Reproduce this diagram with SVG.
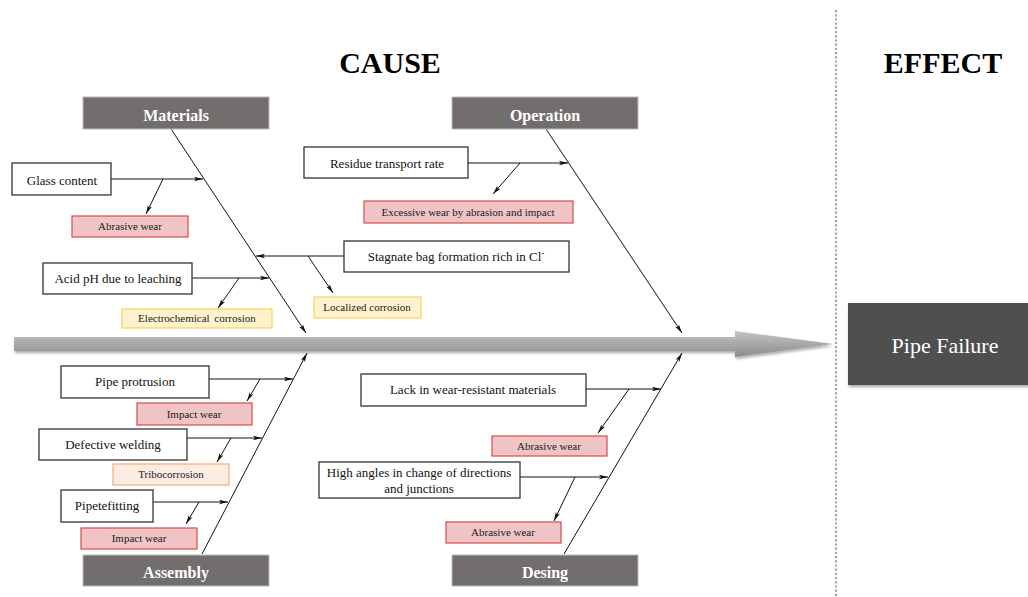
<svg xmlns="http://www.w3.org/2000/svg" width="1028" height="597" viewBox="0 0 1028 597">
<style>
.cat{fill:#736e6e;stroke:#bbb;stroke-width:1}
.catt{font-family:"Liberation Serif",serif;font-weight:bold;font-size:16px;fill:#fff;text-anchor:middle}
.cb{fill:#fff;stroke:#333;stroke-width:1.3}
.ct{font-family:"Liberation Serif",serif;font-size:13px;fill:#111;text-anchor:middle}
.red{fill:#f0c3c5;stroke:#d84b4b;stroke-width:1.2}
.yel{fill:#fff2cc;stroke:#f7d35e;stroke-width:1.2}
.org{fill:#fcece1;stroke:#f2ae7e;stroke-width:1.2}
.et{font-family:"Liberation Serif",serif;font-size:11px;fill:#222;text-anchor:middle}
.ln{stroke:#111;stroke-width:1;fill:none;marker-end:url(#ah)}
.title{font-family:"Liberation Serif",serif;font-weight:bold;font-size:30px;fill:#000;text-anchor:middle}
</style>
<defs>
<marker id="ah" markerWidth="10" markerHeight="6" refX="9" refY="3" orient="auto" markerUnits="userSpaceOnUse">
<path d="M0,0.8 L9,3 L0,5.2 L2,3 Z" fill="#111"/>
</marker>
<linearGradient id="bar" x1="0" y1="0" x2="0" y2="1">
<stop offset="0" stop-color="#c4c4c4"/>
<stop offset="0.5" stop-color="#a8a8a8"/>
<stop offset="1" stop-color="#8c8c8c"/>
</linearGradient>
<filter id="sh" x="-10%" y="-10%" width="130%" height="140%">
<feGaussianBlur in="SourceAlpha" stdDeviation="1.5"/>
<feOffset dx="1" dy="2"/>
<feComponentTransfer><feFuncA type="linear" slope="0.35"/></feComponentTransfer>
<feMerge><feMergeNode/><feMergeNode in="SourceGraphic"/></feMerge>
</filter>
</defs>
<rect width="1028" height="597" fill="#fff"/>
<text class="title" x="390" y="73">CAUSE</text>
<text class="title" x="943" y="73">EFFECT</text>
<line x1="836" y1="10" x2="836" y2="597" stroke="#a6a6a6" stroke-width="2.2" stroke-dasharray="2.2,2"/>
<g id="spine">
<polygon points="14,337 735,337 735,331 833,344 735,357 735,351 14,351" fill="url(#bar)" filter="url(#sh)"/>
</g>
<g id="effect">
<rect x="848" y="303" width="185" height="82" fill="#4f4f4f" filter="url(#sh)"/>
<text x="945" y="353" font-family="'Liberation Serif', serif" font-size="22" fill="#fff" text-anchor="middle">Pipe Failure</text>
</g>
<g id="connectors">
<line class="ln" x1="171" y1="129" x2="306" y2="333"/>
<line class="ln" x1="546" y1="129" x2="682" y2="333"/>
<line class="ln" x1="202" y1="554" x2="307" y2="353"/>
<line class="ln" x1="564" y1="554" x2="682" y2="353"/>
<line class="ln" x1="111" y1="179" x2="203" y2="179"/>
<line class="ln" x1="163" y1="179" x2="146" y2="214"/>
<line class="ln" x1="192" y1="278" x2="269" y2="278"/>
<line class="ln" x1="239" y1="278" x2="218" y2="308"/>
<line class="ln" x1="344" y1="256" x2="256" y2="256"/>
<line class="ln" x1="308" y1="256" x2="333" y2="293"/>
<line class="ln" x1="468" y1="163" x2="568" y2="163"/>
<line class="ln" x1="520" y1="163" x2="493" y2="194"/>
<line class="ln" x1="209" y1="379" x2="293" y2="379"/>
<line class="ln" x1="260" y1="379" x2="247" y2="401"/>
<line class="ln" x1="187" y1="438" x2="262" y2="438"/>
<line class="ln" x1="231" y1="438" x2="217" y2="462"/>
<line class="ln" x1="153" y1="502" x2="228" y2="502"/>
<line class="ln" x1="199" y1="502" x2="186" y2="524"/>
<line class="ln" x1="586" y1="389" x2="661" y2="389"/>
<line class="ln" x1="629" y1="389" x2="598" y2="433"/>
<line class="ln" x1="520" y1="477" x2="608" y2="477"/>
<line class="ln" x1="575" y1="477" x2="554" y2="521"/>
</g>
<g id="materials"><rect class="cat" x="83" y="97" width="186" height="32"/><text class="catt" x="176" y="121">Materials</text></g>
<g id="operation"><rect class="cat" x="452" y="97" width="186" height="32"/><text class="catt" x="545" y="121">Operation</text></g>
<g id="assembly"><rect class="cat" x="83" y="555" width="186" height="31"/><text class="catt" x="176" y="578">Assembly</text></g>
<g id="desing"><rect class="cat" x="452" y="555" width="186" height="31"/><text class="catt" x="545" y="578">Desing</text></g>
<g id="glass"><rect class="cb" x="12" y="163" width="99" height="32"/><text class="ct" x="62" y="185">Glass content</text></g>
<g id="abr1"><rect class="red" x="72" y="216" width="116" height="21"/><text class="et" x="130" y="230">Abrasive wear</text></g>
<g id="acid"><rect class="cb" x="43" y="263" width="149" height="31"/><text class="ct" x="118" y="283">Acid pH due to leaching</text></g>
<g id="electro"><rect class="yel" x="122" y="309" width="150" height="19"/><text class="et" x="197" y="322" word-spacing="2">Electrochemical corrosion</text></g>
<g id="residue"><rect class="cb" x="304" y="147" width="164" height="31"/><text class="ct" x="387" y="168">Residue transport rate</text></g>
<g id="excess"><rect class="red" x="364" y="201" width="209" height="22"/><text class="et" x="468" y="216">Excessive wear by abrasion and impact</text></g>
<g id="stagnate"><rect class="cb" x="344" y="241" width="225" height="31"/><text class="ct" x="456" y="261">Stagnate bag formation rich in Cl<tspan font-size="9" dy="-5">-</tspan></text></g>
<g id="localized"><rect class="yel" x="314" y="297" width="107" height="21"/><text class="et" x="367" y="311">Localized corrosion</text></g>
<g id="protrusion"><rect class="cb" x="61" y="366" width="148" height="32"/><text class="ct" x="135" y="386">Pipe protrusion</text></g>
<g id="impact1"><rect class="red" x="137" y="403" width="115" height="22"/><text class="et" x="194" y="418">Impact wear</text></g>
<g id="welding"><rect class="cb" x="39" y="429" width="148" height="31"/><text class="ct" x="113" y="449">Defective welding</text></g>
<g id="tribo"><rect class="org" x="113" y="464" width="116" height="21"/><text class="et" x="171" y="478">Tribocorrosion</text></g>
<g id="fitting"><rect class="cb" x="61" y="490" width="92" height="32"/><text class="ct" x="107" y="510">Pipetefitting</text></g>
<g id="impact2"><rect class="red" x="81" y="528" width="116" height="21"/><text class="et" x="139" y="542">Impact wear</text></g>
<g id="lack"><rect class="cb" x="361" y="374" width="225" height="32"/><text class="ct" x="473" y="394">Lack in wear-resistant materials</text></g>
<g id="abr2"><rect class="red" x="492" y="436" width="115" height="20"/><text class="et" x="549" y="450">Abrasive wear</text></g>
<g id="angles"><rect class="cb" x="319" y="462" width="201" height="36"/><text class="ct" x="419" y="477">High angles in change of directions</text><text class="ct" x="419" y="493">and junctions</text></g>
<g id="abr3"><rect class="red" x="446" y="522" width="115" height="21"/><text class="et" x="503" y="536">Abrasive wear</text></g>
</svg>
